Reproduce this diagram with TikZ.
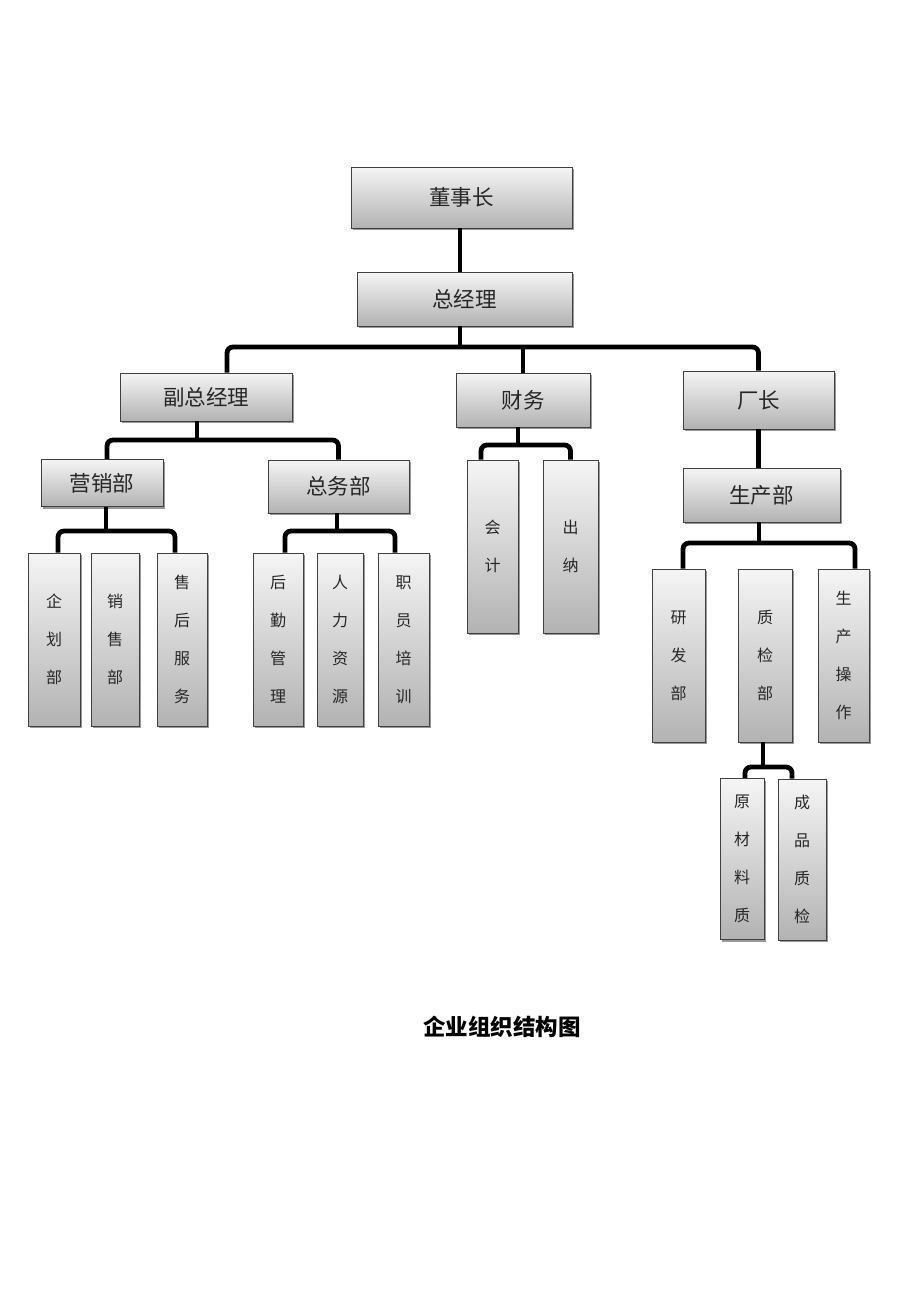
\documentclass[tikz,border=0pt]{standalone}
\usepackage{fontspec}
\setmainfont{Noto Sans CJK SC}
\usetikzlibrary{shadows}
\begin{document}
\begin{tikzpicture}[x=1pt,y=-1pt,
  box/.style={draw=black!75, line width=0.8pt, top color=black!4, bottom color=black!30,
    drop shadow={shadow xshift=2pt,shadow yshift=-2pt,opacity=0.4,fill=black},
    inner sep=0pt, font=\fontsize{21.5}{25}\selectfont, text=black!85},
  tall/.style={box, font=\fontsize{16}{38}\selectfont, align=center},
  conn/.style={line width=4.8pt, rounded corners=6pt, line cap=butt}]
\useasboundingbox (0,0) rectangle (920,1302);
\fill[white] (0,0) rectangle (920,1302);
% top levels
\node[box, minimum width=221pt, minimum height=61pt] (dsz) at (461.5,197.5) {董事长};
\node[box, minimum width=215pt, minimum height=54pt] (zjl) at (464.5,299) {总经理};
\node[box, minimum width=172pt, minimum height=48pt] (fzjl) at (206,397) {副总经理};
\node[box, minimum width=134pt, minimum height=54pt] (cw) at (523,400) {财务};
\node[box, minimum width=151pt, minimum height=58pt] (cz) at (758.5,400) {厂长};
\node[box, minimum width=122pt, minimum height=47pt] (yxb) at (102,483) {营销部};
\node[box, minimum width=141pt, minimum height=53pt] (zwb) at (338.5,486.5) {总务部};
\node[box, minimum width=157pt, minimum height=54pt] (scb) at (761.5,495) {生产部};
% tall boxes
\node[tall, minimum width=52pt, minimum height=173pt] (qhb) at (54,639.5) {企\\划\\部};
\node[tall, minimum width=48pt, minimum height=173pt] (xsb) at (115,639.5) {销\\售\\部};
\node[tall, minimum width=50pt, minimum height=173pt] (shfw) at (182,639.5) {售\\后\\服\\务};
\node[tall, minimum width=50pt, minimum height=173pt] (hqgl) at (278,639.5) {后\\勤\\管\\理};
\node[tall, minimum width=46pt, minimum height=173pt] (rlzy) at (340,639.5) {人\\力\\资\\源};
\node[tall, minimum width=51pt, minimum height=173pt] (zypx) at (403.5,639.5) {职\\员\\培\\训};
\node[tall, minimum width=51pt, minimum height=173pt] (kj) at (492.5,546.5) {会\\计};
\node[tall, minimum width=55pt, minimum height=173pt] (cn) at (570.5,546.5) {出\\纳};
\node[tall, minimum width=53pt, minimum height=173pt] (yfb) at (678.5,655.5) {研\\发\\部};
\node[tall, minimum width=54pt, minimum height=173pt] (zjb) at (765,655.5) {质\\检\\部};
\node[tall, minimum width=51pt, minimum height=173pt] (sczy) at (843.5,655.5) {生\\产\\操\\作};
\node[tall, minimum width=44pt, minimum height=161pt] (yclz) at (742,859) {原\\材\\料\\质};
\node[tall, minimum width=48pt, minimum height=161pt] (cpzj) at (802,859.5) {成\\品\\质\\检};
% bus coordinates
\coordinate (b1) at (460,347);
\coordinate (b2) at (197,440);
\coordinate (b3) at (106,531);
\coordinate (b4) at (337,531);
\coordinate (b5) at (518,445);
\coordinate (b6) at (759,543);
\coordinate (b7) at (763,767);
% connectors
\draw[conn] (b1 |- dsz.south) -- (b1 |- zjl.north);
\draw[conn] (b1 |- zjl.south) -- (b1);
\draw[conn] ([xshift=21pt]fzjl.north) |- (b1) -| (cz.north);
\draw[conn] (cw.north) -- (cw.north |- b1);
\draw[conn] (b2 |- fzjl.south) -- (b2);
\draw[conn] ([xshift=5pt]yxb.north) |- (b2) -| (zwb.north);
\draw[conn] (b3 |- yxb.south) -- (b3);
\draw[conn] ([xshift=4pt]qhb.north) |- (b3) -| ([xshift=-7pt]shfw.north);
\draw[conn] (b4 |- zwb.south) -- (b4);
\draw[conn] ([xshift=7pt]hqgl.north) |- (b4) -| ([xshift=-8.5pt]zypx.north);
\draw[conn] (b5 |- cw.south) -- (b5);
\draw[conn] ([xshift=-11.5pt]kj.north) |- (b5) -| (cn.north);
\draw[conn] (cz.south) -- (cz.south |- scb.north);
\draw[conn] (b6 |- scb.south) -- (b6);
\draw[conn] ([xshift=4.5pt]yfb.north) |- (b6) -| ([xshift=11.5pt]sczy.north);
\draw[conn] (b7 |- zjb.south) -- (b7);
\draw[conn] ([xshift=3pt]yclz.north) |- (b7) -| ([xshift=-10pt]cpzj.north);
% caption
\node[font=\bfseries\fontsize{22.5}{26}\selectfont] (cap) at (502,1027) {企业组织结构图};
\end{tikzpicture}
\end{document}
